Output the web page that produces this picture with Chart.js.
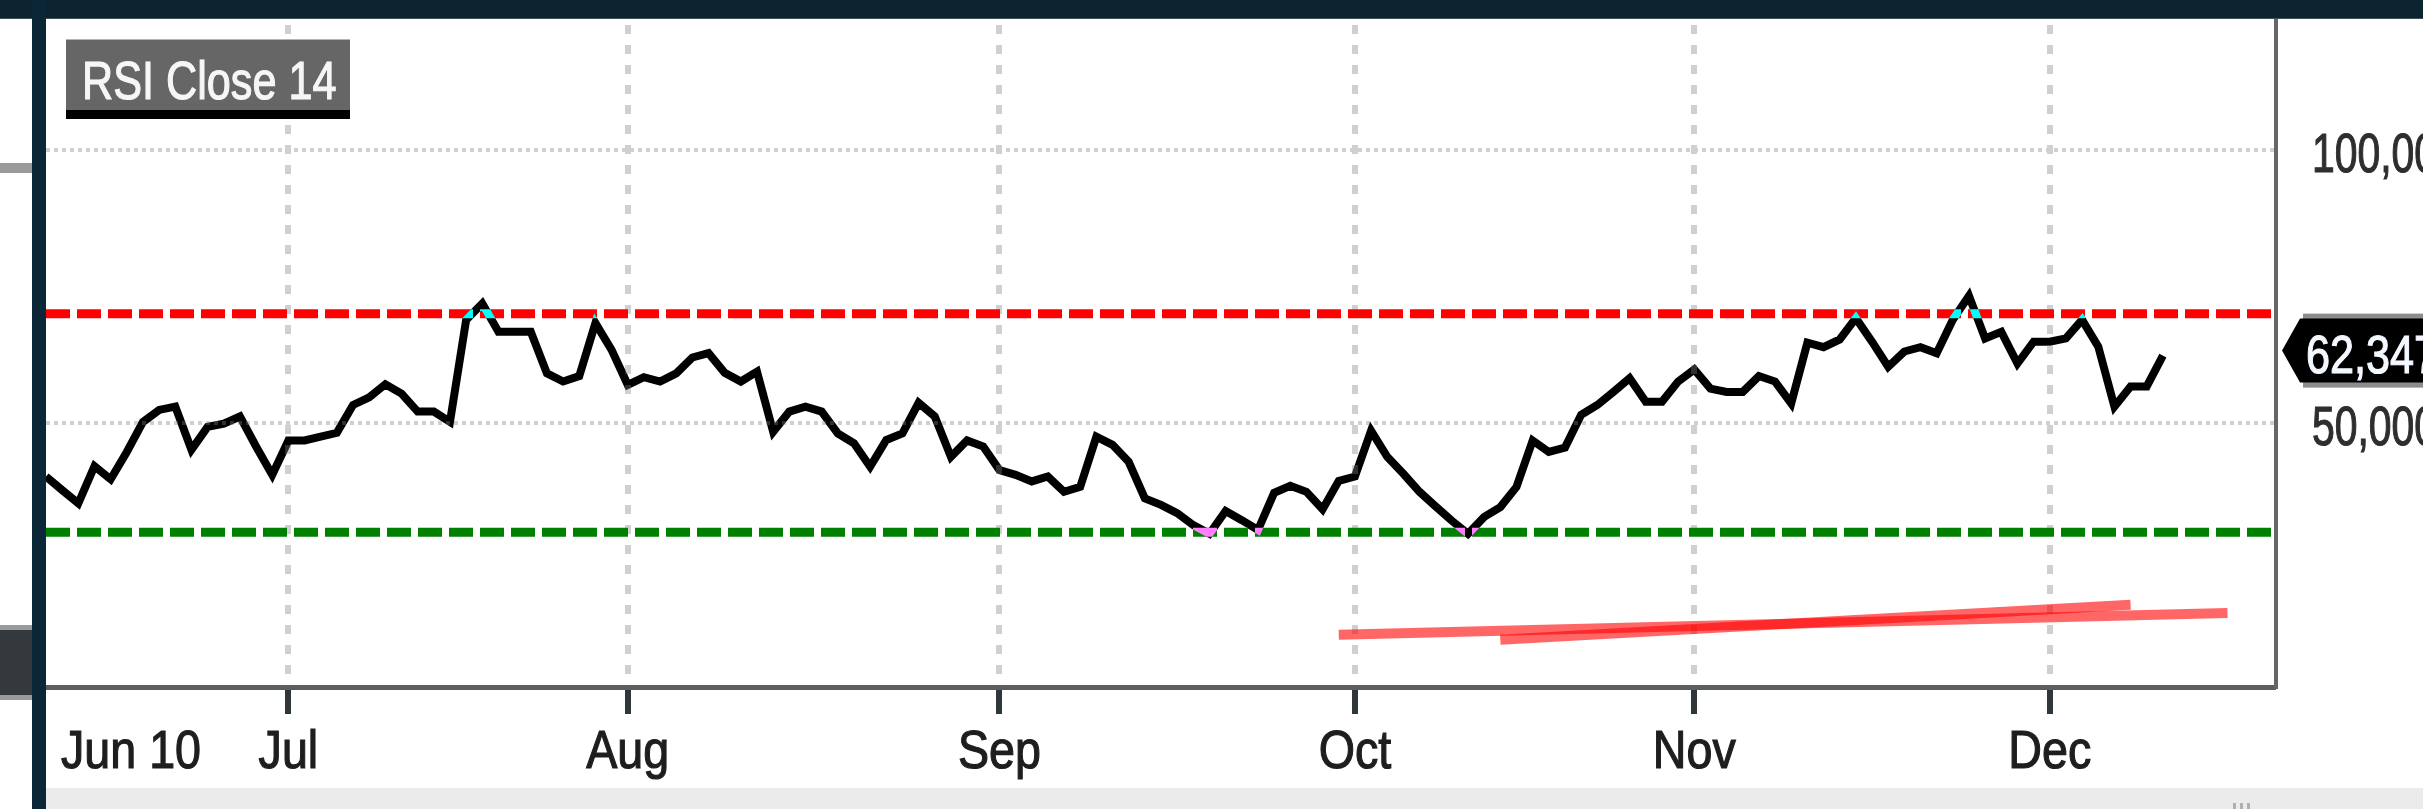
<!DOCTYPE html>
<html>
<head>
<meta charset="utf-8">
<title>RSI Close 14</title>
<script src="https://cdn.jsdelivr.net/npm/chart.js@4.4.1/dist/chart.umd.min.js"></script>
<style>
  html, body { margin: 0; padding: 0; background: #fff; }
  body { width: 2423px; height: 809px; position: relative; overflow: hidden; }
  #topBar { position: absolute; left: 0; top: 0; width: 2423px; height: 19px; background: #0c2430; border-bottom: 1px solid #3e5058; box-sizing: border-box; }
  #leftBar { position: absolute; left: 32px; top: 0; width: 14px; height: 809px; background: #0b2636; }
  #leftNotch { position: absolute; left: 0; top: 163px; width: 32px; height: 10px; background: #9a9a9a; }
  #leftBlock { position: absolute; left: 0; top: 625px; width: 32px; height: 75px; background: #33393c; border-top: 5px solid #9a9a9a; border-bottom: 5px solid #9a9a9a; box-sizing: border-box; }
  #bottomStrip { position: absolute; left: 46px; top: 788px; width: 2377px; height: 21px; background: #ebebeb; }
  .grip { position: absolute; top: 803px; width: 3px; height: 6px; background: #b0b0b0; }
  #wrap { position: absolute; left: 46px; top: 19px; width: 2377px; height: 769px; }
</style>
</head>
<body>
<div id="topBar"></div>
<div id="leftBar"></div>
<div id="leftNotch"></div>
<div id="leftBlock"></div>
<div id="bottomStrip"></div>
<div class="grip" style="left:2233px"></div>
<div class="grip" style="left:2240px"></div>
<div class="grip" style="left:2247px"></div>
<div id="wrap"><canvas id="rsiChart"></canvas></div>

<script>
// trading days shown on the axis (weekdays, Jun 10 - Dec 21 2022)
const firstDay = '2022-06-10';
const lastDay = '2022-12-21';

// RSI(14) close, one value per trading day from Jun 10 to Dec 12
const rsiValues = [
  40.2, 37.7, 35.3, 42.1, 39.7, 44.7, 50.2, 52.4, 53.0, 45.1,
  49.3, 49.9, 51.2, 45.7, 40.5, 46.8, 46.8, 47.5, 48.2, 53.3,
  54.7, 57.1, 55.4, 52.1, 52.1, 50.2, 68.9, 71.9, 66.7, 66.7,
  66.7, 59.1, 57.6, 58.6, 68.3, 63.4, 57.0, 58.4, 57.6, 59.1,
  62.0, 62.8, 59.2, 57.6, 59.4, 48.4, 52.1, 53.0, 52.1, 48.1,
  46.3, 42.0, 46.9, 48.1, 53.7, 51.2, 43.8, 46.8, 45.7, 41.4,
  40.5, 39.3, 40.2, 37.4, 38.3, 47.5, 46.0, 42.9, 36.2, 35.0,
  33.5, 31.3, 29.7, 33.9, 32.2, 30.4, 37.2, 38.5, 37.4, 34.2,
  39.4, 40.2, 48.6, 43.8, 40.7, 37.4, 34.7, 32.1, 29.7, 32.8,
  34.6, 38.3, 46.8, 44.7, 45.5, 51.5, 53.3, 55.7, 58.2, 53.9,
  53.9, 57.6, 59.8, 56.3, 55.7, 55.7, 58.6, 57.6, 53.6, 64.7,
  63.9, 65.3, 69.2, 64.9, 60.3, 63.1, 63.9, 62.8, 68.9, 73.3,
  65.5, 66.7, 60.9, 64.9, 64.9, 65.5, 68.9, 64.0, 53.0, 56.7,
  56.7, 62.347
];

const overbought = 70;
const oversold = 30;

// red trend lines drawn on the panel: [date, value]
const trendA = [['2022-09-30', 11.2], ['2022-12-16', 15.2]];
const trendB = [['2022-10-14', 10.3], ['2022-12-08', 16.7]];

const tickDates = ['2022-06-10', '2022-07-01', '2022-08-01', '2022-09-01', '2022-10-03', '2022-11-01', '2022-12-01'];
const tickText = ['Jun 10', 'Jul', 'Aug', 'Sep', 'Oct', 'Nov', 'Dec'];
const yGridValues = [50, 100];

const labels = [];
for (let d = new Date(firstDay + 'T00:00:00Z'); d <= new Date(lastDay + 'T00:00:00Z'); d.setUTCDate(d.getUTCDate() + 1)) {
  const wd = d.getUTCDay();
  if (wd !== 0 && wd !== 6) labels.push(d.toISOString().slice(0, 10));
}

const isMonthTick = i => i > 0 && tickDates.includes(labels[i]);
const FONT = '"Liberation Sans", Arial, sans-serif';

function drawText(ctx, text, x, y, size, sx, color, align) {
  ctx.save();
  ctx.font = size + 'px ' + FONT;
  ctx.fillStyle = color;
  ctx.strokeStyle = color;
  ctx.lineWidth = 1.2;
  ctx.textAlign = align;
  ctx.textBaseline = 'alphabetic';
  ctx.translate(x, y);
  ctx.scale(sx, 1);
  ctx.fillText(text, 0, 0);
  ctx.strokeText(text, 0, 0);
  ctx.restore();
}

const panelPlugin = {
  id: 'panel',
  beforeDraw(chart) {
    const ctx = chart.ctx;
    ctx.save();
    ctx.fillStyle = '#ffffff';
    ctx.fillRect(0, 0, chart.width, chart.height);
    ctx.restore();
  },
  beforeDatasetDraw(chart, args) {
    // the RSI line inverts whatever it crosses (black on white, cyan on red, pink on green)
    if (args.index === 0) {
      chart.ctx.save();
      chart.ctx.globalCompositeOperation = 'difference';
    }
  },
  afterDatasetDraw(chart, args) {
    if (args.index === 0) chart.ctx.restore();
  },
  afterDraw(chart) {
    const ctx = chart.ctx;
    const xs = chart.scales.x;
    const ys = chart.scales.y;
    const area = chart.chartArea;
    const W = chart.width;

    // x tick labels
    tickDates.forEach((d, k) => {
      const i = labels.indexOf(d);
      const px = xs.getPixelForValue(i);
      if (k === 0) drawText(ctx, tickText[k], px + 15, 749, 53, 0.88, '#1e1e1e', 'left');
      else drawText(ctx, tickText[k], px, 749, 53, 0.88, '#1e1e1e', 'center');
    });

    // y labels
    yGridValues.forEach(v => {
      const py = ys.getPixelForValue(v);
      drawText(ctx, v.toFixed(3).replace('.', ','), area.right + 36, py + 22, 56, 0.73, '#2e2e2e', 'left');
    });

    // last value marker
    const last = rsiValues[rsiValues.length - 1];
    const py = ys.getPixelForValue(last);
    const c = py - 5;
    const r = area.right;
    ctx.save();
    ctx.fillStyle = '#8c8c8c';
    ctx.fillRect(r + 27, c - 37, W - r - 27, 74);
    ctx.fillStyle = '#000000';
    ctx.beginPath();
    ctx.moveTo(r + 6, c);
    ctx.lineTo(r + 24, c - 32);
    ctx.lineTo(W, c - 32);
    ctx.lineTo(W, c + 32);
    ctx.lineTo(r + 24, c + 32);
    ctx.closePath();
    ctx.fill();
    ctx.restore();
    drawText(ctx, last.toFixed(3).replace('.', ','), r + 30, py + 17, 54, 0.8, '#f4f8ff', 'left');

    // indicator title box
    ctx.save();
    ctx.fillStyle = '#666666';
    ctx.fillRect(20, 20, 284, 71);
    ctx.fillStyle = '#b4b4b4';
    ctx.fillRect(20, 20, 284, 1);
    ctx.fillStyle = '#000000';
    ctx.fillRect(20, 91, 284, 9);
    ctx.restore();
    drawText(ctx, 'RSI Close 14', 36, 80, 54, 0.8, '#f6f6f6', 'left');
  }
};

const pts = arr => arr.map(p => ({x: p[0], y: p[1]}));

new Chart(document.getElementById('rsiChart'), {
  type: 'line',
  data: {
    labels: labels,
    datasets: [
      {
        label: 'RSI Close 14',
        data: rsiValues,
        borderColor: '#ffffff',
        borderWidth: 8,
        borderJoinStyle: 'miter',
        pointRadius: 0,
        tension: 0,
        order: 0
      },
      {
        label: 'Overbought',
        data: [{x: labels[0], y: overbought}, {x: labels[labels.length - 1], y: overbought}],
        borderColor: '#ff0000',
        borderWidth: 9,
        borderDash: [24, 7],
        pointRadius: 0,
        order: 2
      },
      {
        label: 'Oversold',
        data: [{x: labels[0], y: oversold}, {x: labels[labels.length - 1], y: oversold}],
        borderColor: '#008000',
        borderWidth: 9,
        borderDash: [24, 7],
        pointRadius: 0,
        order: 2
      },
      {
        label: 'Trend A',
        data: pts(trendA),
        borderColor: 'rgba(255, 0, 0, 0.6)',
        borderWidth: 10,
        pointRadius: 0,
        order: 1
      },
      {
        label: 'Trend B',
        data: pts(trendB),
        borderColor: 'rgba(255, 0, 0, 0.6)',
        borderWidth: 10,
        pointRadius: 0,
        order: 1
      }
    ]
  },
  options: {
    responsive: true,
    maintainAspectRatio: false,
    devicePixelRatio: 1,
    animation: false,
    events: [],
    layout: { padding: 0 },
    plugins: {
      legend: { display: false },
      tooltip: { enabled: false }
    },
    scales: {
      x: {
        type: 'category',
        offset: false,
        afterFit: axis => { axis.height = 101; },
        ticks: { display: false, autoSkip: false },
        grid: {
          color: '#d0d0d0',
          lineWidth: c => isMonthTick(c.index) ? 6 : 0,
          drawTicks: true,
          tickLength: 27,
          tickWidth: c => isMonthTick(c.index) ? 6 : 0,
          tickColor: '#30373a'
        },
        border: { display: true, color: '#595f5f', width: 5, dash: [9, 11], dashOffset: 14 }
      },
      y: {
        position: 'right',
        min: 1.65,
        max: 124,
        afterBuildTicks: axis => { axis.ticks = yGridValues.map(v => ({value: v})); },
        afterFit: axis => { axis.width = 147; },
        ticks: { display: false },
        grid: { color: '#d0d0d0', lineWidth: 4, drawTicks: false },
        border: { display: true, color: '#666666', width: 4, dash: [4, 4] }
      }
    }
  },
  plugins: [panelPlugin]
});
</script>
</body>
</html>
